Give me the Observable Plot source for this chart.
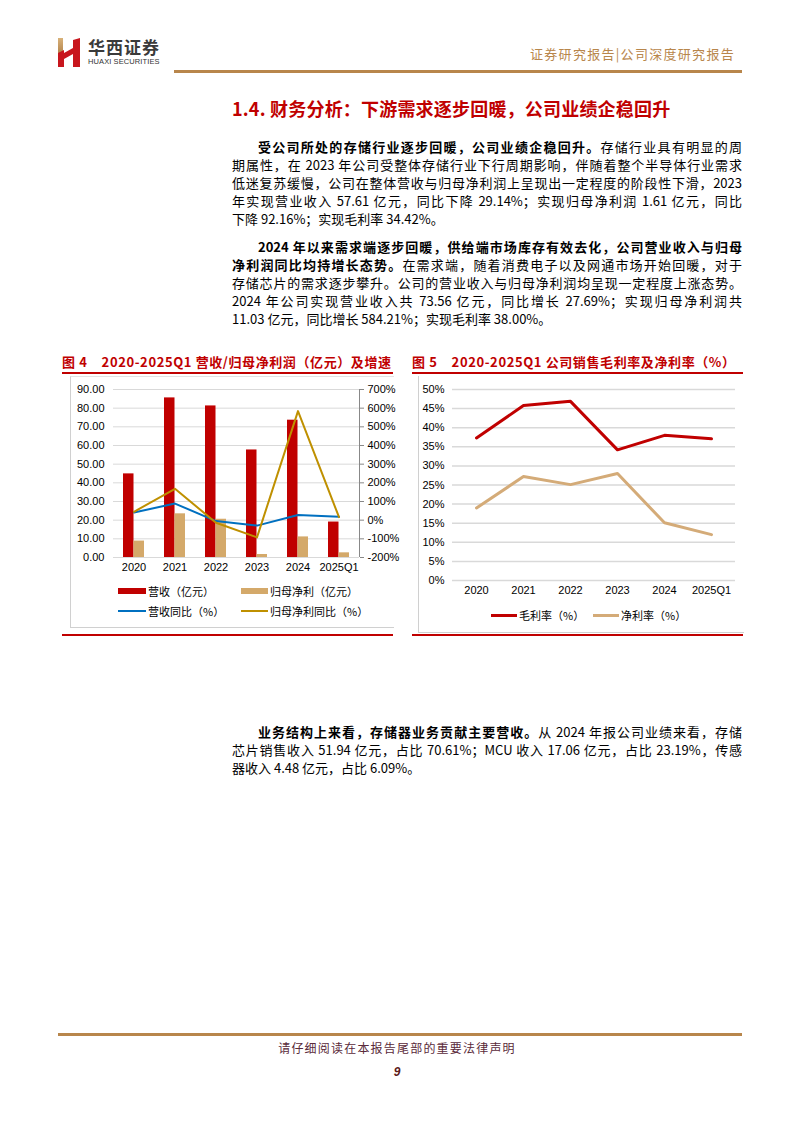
<!DOCTYPE html>
<html><head><meta charset="utf-8">
<script src="https://cdn.jsdelivr.net/npm/d3@7"></script>
<script src="https://cdn.jsdelivr.net/npm/@observablehq/plot@0.6"></script>
<style>
body{margin:0;background:#fff;}
#page{position:relative;width:794px;height:1123px;font-family:"Noto Sans CJK SC","Noto Sans",sans-serif;color:#000;overflow:hidden;background:#fff;}
.abs{position:absolute;}
.para{position:absolute;left:232px;width:510px;font-size:13px;line-height:18px;}
.para div{height:18px;text-align:justify;text-align-last:justify;}
.para div.last{text-align-last:left;}
.para div.ind{text-indent:26px;}
b{font-weight:700;}
.ctitle{position:absolute;top:352px;height:20px;font-size:13px;font-weight:700;color:#C00000;white-space:nowrap;overflow:hidden;letter-spacing:0.6px;}
.redline{position:absolute;height:2px;background:#C00000;}
.leg{position:absolute;font-size:11px;font-family:"Noto Sans CJK SC",sans-serif;color:#000;white-space:nowrap;line-height:14px;}
.sw{position:absolute;}
svg{overflow:visible;}
</style>
</head>
<body>
<div id="page">
  <!-- header -->
  <svg class="abs" style="left:56px;top:36px" width="28" height="34" viewBox="0 0 28 34">
    <defs><linearGradient id="gd" x1="0" x2="0" y1="0" y2="1"><stop offset="0" stop-color="#d9b27a"/><stop offset="1" stop-color="#a8763e"/></linearGradient></defs>
    <rect x="2" y="2" width="5" height="20" fill="url(#gd)"/>
    <polygon points="2,17 8,14 8,31 2,31" fill="#C8161D"/>
    <polygon points="8,17 17,12 17,18 8,23" fill="#C8161D"/>
    <polygon points="17,4 24,2 24,31 17,31" fill="#C8161D"/>
  </svg>
  <div class="abs" style="left:88px;top:34px;font-size:17px;font-weight:700;color:#3a3a3a;letter-spacing:1px;font-family:'Noto Sans CJK SC'">华西证券</div>
  <div class="abs" style="left:88px;top:57px;font-size:7.5px;color:#333;font-family:'Liberation Sans',sans-serif;letter-spacing:0.1px">HUAXI SECURITIES</div>
  <div class="abs" style="left:530px;top:44px;font-size:13px;color:#B8864B;letter-spacing:1.3px">证券研究报告|公司深度研究报告</div>
  <div class="abs" style="left:174px;top:70px;width:568px;height:2.5px;background:#B8864B"></div>

  <!-- section title -->
  <div class="abs" style="left:232px;top:95px;font-size:18px;font-weight:700;color:#C00000;letter-spacing:0.2px">1.4. 财务分析：下游需求逐步回暖，公司业绩企稳回升</div>

  <div class="para" style="top:138px">
    <div class="ind"><b>受公司所处的存储行业逐步回暖，公司业绩企稳回升。</b>存储行业具有明显的周</div>
    <div>期属性，在 2023 年公司受整体存储行业下行周期影响，伴随着整个半导体行业需求</div>
    <div>低迷复苏缓慢，公司在整体营收与归母净利润上呈现出一定程度的阶段性下滑，2023</div>
    <div>年实现营业收入 57.61 亿元，同比下降 29.14%；实现归母净利润 1.61 亿元，同比</div>
    <div class="last">下降 92.16%；实现毛利率 34.42%。</div>
  </div>
  <div class="para" style="top:238px">
    <div class="ind"><b>2024 年以来需求端逐步回暖，供给端市场库存有效去化，公司营业收入与归母</b></div>
    <div><b>净利润同比均持增长态势。</b>在需求端，随着消费电子以及网通市场开始回暖，对于</div>
    <div>存储芯片的需求逐步攀升。公司的营业收入与归母净利润均呈现一定程度上涨态势。</div>
    <div>2024 年公司实现营业收入共 73.56 亿元，同比增长 27.69%；实现归母净利润共</div>
    <div class="last">11.03 亿元，同比增长 584.21%；实现毛利率 38.00%。</div>
  </div>

  <!-- chart titles -->
  <div class="ctitle" style="left:62px;width:331px">图 4&nbsp;&nbsp;&nbsp;&nbsp;2020-2025Q1 营收/归母净利润（亿元）及增速</div>
  <div class="redline" style="left:62px;top:372px;width:331px"></div>
  <div class="ctitle" style="left:412px;width:331px">图 5&nbsp;&nbsp;&nbsp;&nbsp;2020-2025Q1 公司销售毛利率及净利率（%）</div>
  <div class="redline" style="left:412px;top:372px;width:331px"></div>

  <!-- chart boxes -->
  <div class="abs" style="left:70px;top:376px;width:323px;height:250px;border-left:1px solid #d0d0d0;border-bottom:1px solid #d0d0d0;border-top:1px solid #e3e3e3"></div>
  <div class="abs" style="left:418px;top:376px;width:325px;height:256px;border-left:1px solid #d0d0d0;border-bottom:1px solid #d0d0d0"></div>
  <div class="redline" style="left:62px;top:634px;width:331px"></div>
  <div class="redline" style="left:412px;top:634px;width:331px"></div>

  <div id="chart1" class="abs" style="left:70px;top:374px"></div>
  <div id="chart2" class="abs" style="left:418px;top:374px"></div>

  <!-- legend chart1 -->
  <div class="sw" style="left:118px;top:588px;width:28px;height:6px;background:#C00000"></div>
  <div class="leg" style="left:148px;top:584px">营收（亿元）</div>
  <div class="sw" style="left:241px;top:588px;width:27px;height:6px;background:#D4A96A"></div>
  <div class="leg" style="left:270px;top:584px">归母净利（亿元）</div>
  <div class="sw" style="left:118px;top:610px;width:28px;height:2px;background:#0070C0"></div>
  <div class="leg" style="left:148px;top:604px">营收同比（%）</div>
  <div class="sw" style="left:241px;top:610px;width:27px;height:2px;background:#BF9000"></div>
  <div class="leg" style="left:270px;top:604px">归母净利同比（%）</div>

  <!-- legend chart2 -->
  <div class="sw" style="left:491px;top:614px;width:26px;height:3px;background:#C00000"></div>
  <div class="leg" style="left:519px;top:608px">毛利率（%）</div>
  <div class="sw" style="left:593px;top:614px;width:26px;height:3px;background:#D4AB78"></div>
  <div class="leg" style="left:621px;top:608px">净利率（%）</div>

  <div class="para" style="top:723px">
    <div class="ind"><b>业务结构上来看，存储器业务贡献主要营收。</b>从 2024 年报公司业绩来看，存储</div>
    <div>芯片销售收入 51.94 亿元，占比 70.61%；MCU 收入 17.06 亿元，占比 23.19%，传感</div>
    <div class="last">器收入 4.48 亿元，占比 6.09%。</div>
  </div>

  <!-- footer -->
  <div class="abs" style="left:58px;top:1033px;width:684px;height:2.5px;background:#B8864B"></div>
  <div class="abs" style="left:0;top:1039px;width:794px;text-align:center;font-size:12px;color:#5a2a3a;letter-spacing:1.2px">请仔细阅读在本报告尾部的重要法律声明</div>
  <div class="abs" style="left:0;top:1065px;width:794px;text-align:center;font-size:12px;font-weight:700;font-style:italic;color:#5a1a1a;font-family:'Liberation Sans',sans-serif">9</div>
</div>

<script>
const years = ["2020", "2021", "2022", "2023", "2024", "2025Q1"];
const revenue = [44.8, 85.5, 81.2, 57.61, 73.56, 19.0];
const netProfit = [8.8, 23.4, 20.5, 1.61, 11.03, 2.5];
const revenueYoY = [41, 89, -5, -29.14, 27.69, 18];
const profitYoY = [45, 168, -14, -92.16, 584.21, 16];
const leftTicks = [0, 10, 20, 30, 40, 50, 60, 70, 80, 90];
const rightTicks = [-200, -100, 0, 100, 200, 300, 400, 500, 600, 700];

const grossMargin = [37.3, 45.8, 46.9, 34.2, 38.0, 37.1];
const netMargin = [19.0, 27.2, 25.1, 28.0, 15.1, 12.0];
const marginTicks = [0, 5, 10, 15, 20, 25, 30, 35, 40, 45, 50];

const rows = years.map((year, i) => ({year, revenue: revenue[i], netProfit: netProfit[i], revenueYoY: revenueYoY[i], profitYoY: profitYoY[i]}));
const mrows = years.map((year, i) => ({year, gross: grossMargin[i], net: netMargin[i]}));

// right axis (%) mapped onto left axis (亿元) range: -200%..700% -> 0..90
const toLeft = p => (p + 200) / 10;
const fromLeft = v => v * 10 - 200;

const W1 = 323, ML1 = 43, MR1 = 34;
const bw = (W1 - ML1 - MR1) / years.length;
const barW = 10.5;
const font = "'Liberation Sans','Noto Sans CJK SC',sans-serif";

const chart1 = Plot.plot({
  width: W1, height: 205,
  marginLeft: ML1, marginRight: MR1, marginTop: 15, marginBottom: 22,
  style: {fontFamily: font, fontSize: "11px", color: "#000", background: "transparent", overflow: "visible"},
  x: {type: "band", domain: years, padding: 0, label: null},
  y: {domain: [0, 90], label: null},
  marks: [
    Plot.gridY(leftTicks, {stroke: "#d9d9d9", strokeOpacity: 1}),
    Plot.axisX({tickSize: 0, tickPadding: 6, label: null}),
    Plot.axisY(leftTicks, {anchor: "left", tickSize: 0, tickPadding: 9, tickFormat: d => d.toFixed(2), label: null}),
    Plot.axisY(rightTicks.map(toLeft), {anchor: "right", tickSize: 4, tickPadding: 4, stroke: "#888", tickFormat: v => `${Math.round(fromLeft(v))}%`, label: null}),
    Plot.ruleX([years[years.length - 1]], {x: d => d, y1: 0, y2: 90, dx: bw / 2, stroke: "#888"}),
    Plot.barY(rows, {x: "year", y: "revenue", fill: "#C00000", insetLeft: bw / 2 - barW, insetRight: bw / 2}),
    Plot.barY(rows, {x: "year", y: "netProfit", fill: "#D4A96A", insetLeft: bw / 2, insetRight: bw / 2 - barW}),
    Plot.line(rows, {x: "year", y: d => toLeft(d.revenueYoY), stroke: "#0070C0", strokeWidth: 2}),
    Plot.line(rows, {x: "year", y: d => toLeft(d.profitYoY), stroke: "#BF9000", strokeWidth: 2})
  ]
});
document.getElementById("chart1").append(chart1);

const chart2 = Plot.plot({
  width: 327, height: 228,
  marginLeft: 34, marginRight: 10, marginTop: 15, marginBottom: 22,
  style: {fontFamily: font, fontSize: "11px", color: "#000", background: "transparent", overflow: "visible"},
  x: {type: "point", domain: years, padding: 0.5, label: null},
  y: {domain: [0, 50], label: null},
  marks: [
    Plot.gridY(marginTicks, {stroke: "#d9d9d9", strokeOpacity: 1, strokeWidth: 1.5}),
    Plot.axisX({tickSize: 0, tickPadding: 6, label: null}),
    Plot.axisY(marginTicks, {anchor: "left", tickSize: 0, tickPadding: 8, tickFormat: d => `${d}%`, label: null}),
    Plot.line(mrows, {x: "year", y: "gross", stroke: "#C00000", strokeWidth: 3}),
    Plot.line(mrows, {x: "year", y: "net", stroke: "#D4AB78", strokeWidth: 3})
  ]
});
document.getElementById("chart2").append(chart2);
</script>
</body></html>
